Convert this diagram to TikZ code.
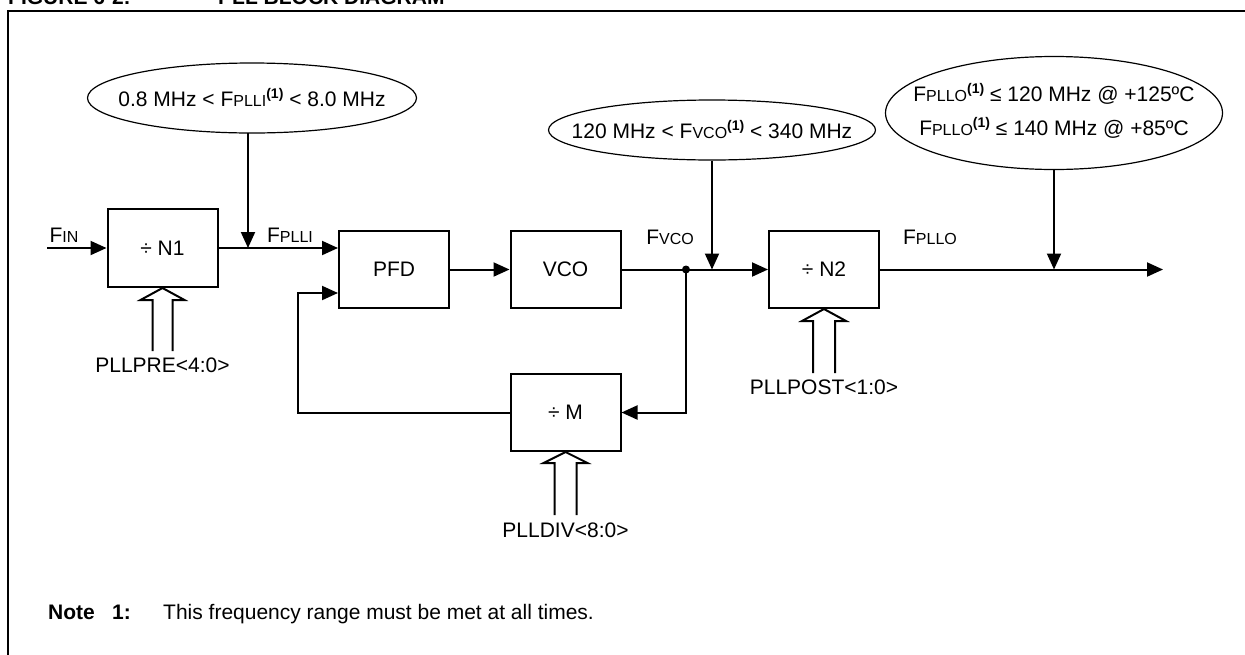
\documentclass[tikz,border=0pt]{standalone}
\usepackage{fontspec}
\setmainfont{Liberation Sans}
\usetikzlibrary{arrows.meta,shapes.geometric}
\newcommand\sml[1]{{\fontsize{16}{18}\selectfont #1}}
\newcommand\supone{\raisebox{8pt}{\fontsize{14}{15}\selectfont\bfseries(1)}}
\begin{document}
\begin{tikzpicture}[x=1pt,y=-1pt,
  every node/.style={font=\fontsize{21}{25}\selectfont, inner sep=0pt},
  blk/.style={draw, line width=2pt, minimum width=110pt, minimum height=77pt},
  bubble/.style={draw, ellipse, line width=1.2pt},
  wire/.style={line width=2pt},
  arr/.style={wire, -{Triangle[length=16pt,width=14pt]}},
  bus/.style={line width=2pt, line join=miter},
  lbl/.style={anchor=center},
  ttl/.style={anchor=base west, font=\fontsize{21}{25}\selectfont\bfseries},
]
\useasboundingbox (0,0) rectangle (1245,654);
% title (cut by page edge) and frame
\node[ttl] (t1) at (8,4) {FIGURE 6-2:};
\node[ttl] (t2) at (218,4) {PLL BLOCK DIAGRAM};
\draw[line width=2.5pt] (8,720) -- (8,11) -- (1300,11);

% blocks
\node[blk, minimum height=78pt] (n1) at (162.5,248) {÷ N1};
\node[blk] (pfd) at (394,269.5) {PFD};
\node[blk] (vco) at (565.5,269.5) {VCO};
\node[blk] (n2) at (824,269.5) {÷ N2};
\node[blk] (m) at (565.5,412.5) {÷ M};

% ellipses
\node[bubble, minimum width=329pt, minimum height=70pt] (e1) at (252,98) {};
\node (e1t) at (e1) {0.8 MHz < F\sml{PLLI}\supone{} < 8.0 MHz};
\node[bubble, minimum width=327pt, minimum height=60pt] (e2) at (712,130) {};
\node (e2t) at (e2) {120 MHz < F\sml{VCO}\supone{} < 340 MHz};
\node[bubble, minimum width=337pt, minimum height=113pt] (e3) at (1054,113) {};
\node[align=center, font=\fontsize{21}{34}\selectfont] (e3t) at (1054,111) {F\sml{PLLO}\supone{} ≤ 120 MHz @ +125ºC\\F\sml{PLLO}\supone{} ≤ 140 MHz @ +85ºC};

% signal labels
\node[lbl] (fin) at (64,235) {F\sml{IN}};
\node[lbl] (fplli) at (290,235) {F\sml{PLLI}};
\node[lbl] (fvco) at (670,237) {F\sml{VCO}};
\node[lbl] (fpllo) at (930,237) {F\sml{PLLO}};

% coordinates
\coordinate (inp) at (47,248);
\coordinate (j) at (686,269.5);
\coordinate (out) at (1163,269.5);
\coordinate (fb) at (298,293);
\coordinate (c1) at (248,133);

% main path
\draw[arr] (inp) -- (n1.west);
\draw[arr] (n1.east) -- (n1.east -| pfd.west);
\draw[arr] (pfd.east) -- (vco.west);
\draw[arr] (vco.east) -- (n2.west);
\draw[arr] (n2.east) -- (out);
\fill (j) circle (4pt);
\draw[arr] (j) |- (m.east);
\draw[arr] (m.west) -| (fb) -- (fb -| pfd.west);

% constraints
\draw[arr] (c1) -- (c1 |- n1.east);
\draw[arr] (e2.south) -- (e2.south |- n2.west);
\draw[arr] (e3.south) -- (e3.south |- n2.east);

% bus arrows
\draw[bus] ([xshift=-10pt,yshift=-63pt]n1.south) -- ++(0,-51) -- ++(-12,0) -- (n1.south) -- ++(22,12) -- ++(-12,0) -- ++(0,51);
\node[anchor=north] (pre) at ([yshift=-70pt]n1.south) {PLLPRE<4:0>};
\draw[bus] ([xshift=-11pt,yshift=-64pt]n2.south) -- ++(0,-52) -- ++(-11,0) -- (n2.south) -- ++(22,12) -- ++(-11,0) -- ++(0,52);
\node[anchor=north] (post) at ([yshift=-71pt]n2.south) {PLLPOST<1:0>};
\draw[bus] ([xshift=-11pt,yshift=-63pt]m.south) -- ++(0,-52) -- ++(-11,0) -- (m.south) -- ++(22,11) -- ++(-11,0) -- ++(0,52);
\node[anchor=north] (div) at ([yshift=-71pt]m.south) {PLLDIV<8:0>};

% note
\node[anchor=base west, font=\fontsize{21}{25}\selectfont\bfseries] (nt) at (48,619) {Note};
\node[anchor=base west, font=\fontsize{21}{25}\selectfont\bfseries] (nn) at (112,619) {1:};
\node[anchor=base west] (ntx) at (163,619) {This frequency range must be met at all times.};
\end{tikzpicture}
\end{document}
